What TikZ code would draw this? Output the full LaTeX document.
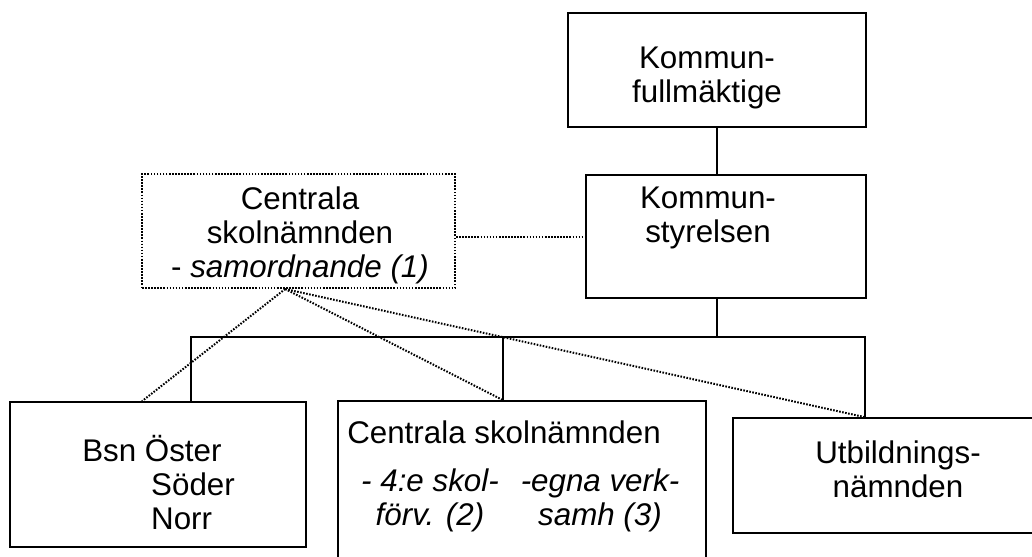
\documentclass[tikz,border=0pt]{standalone}
\usepackage{fontspec}
\setmainfont{Liberation Sans}

\tikzstyle{box}=[draw, rectangle, line width=1.2pt, inner sep=0pt]
\tikzstyle{dotbox}=[draw, rectangle, line width=1.5pt, dash pattern=on 1.2pt off 1.1pt, inner sep=0pt]
\tikzstyle{txt}=[inner sep=0pt, align=center, font=\fontsize{23.5}{25.5}\selectfont]
\tikzstyle{ital}=[txt, font=\fontsize{23.5}{25.5}\selectfont\itshape]
\tikzstyle{link}=[line width=1.2pt]
\tikzstyle{dotlink}=[line width=1.5pt, dash pattern=on 1.2pt off 1.1pt]

\begin{document}
\begin{tikzpicture}[x=0.75pt, y=-0.75pt]
\clip (0,0) rectangle (1032,557);

\node[box, minimum width=223.5pt, minimum height=85.5pt] (kf) at (717,70) {};
\node[box, minimum width=210pt, minimum height=92.25pt] (ks) at (726,236.5) {};
\node[dotbox, minimum width=234.75pt, minimum height=85.5pt] (csn) at (298.5,231) {};
\node[box, minimum width=222pt, minimum height=108.75pt] (bsn) at (158,474.5) {};
\node[box, minimum width=276pt, minimum height=149.25pt] (csm) at (522,500.5) {};
\node[box, minimum width=275.25pt, minimum height=86.25pt] (utb) at (916.5,475.5) {};

\node[txt] (kft) at (707,78) {Kommun-\\fullmäktige};
\node[txt] (kst) at (708,218) {Kommun-\\styrelsen};
\node[txt] (csnt) at (300,235) {Centrala\\skolnämnden\\- \textit{samordnande (1)}};
\node[txt, align=left, anchor=west] (bsnt) at (82,483) {Bsn Öster\\\hspace*{2.2em}Söder\\\hspace*{2.2em}Norr};
\node[txt, anchor=base west] (csmt) at (347,443) {Centrala skolnämnden};
\node[ital] (csma) at (430,500) {- 4:e skol-\\förv. (2)};
\node[ital] (csmb) at (600,500) {-egna verk-\\samh (3)};
\node[txt] (utbt) at (898,469) {Utbildnings-\\nämnden};

\coordinate (hub) at (717,337);
\coordinate (b1) at (191,337);
\coordinate (b2) at (503,337);
\coordinate (b3) at (865,337);
\coordinate (fan) at ([xshift=-10pt]csn.south);

\draw[link] (kf.south) -- (kf.south |- ks.north);
\draw[link] (hub |- ks.south) -- (hub);
\draw[link] (b1 |- bsn.north) -- (b1) -- (b3) -- (b3 |- utb.north);
\draw[link] (b2) -- (b2 |- csm.north);

\draw[dotlink] (csn.east |- ks.west) -- (ks.west);
\draw[dotlink] (fan) -- ([xshift=-12pt]bsn.north);
\draw[dotlink] (fan) -- (b2 |- csm.north);
\draw[dotlink] (fan) -- (b3 |- utb.north);
\end{tikzpicture}
\end{document}
